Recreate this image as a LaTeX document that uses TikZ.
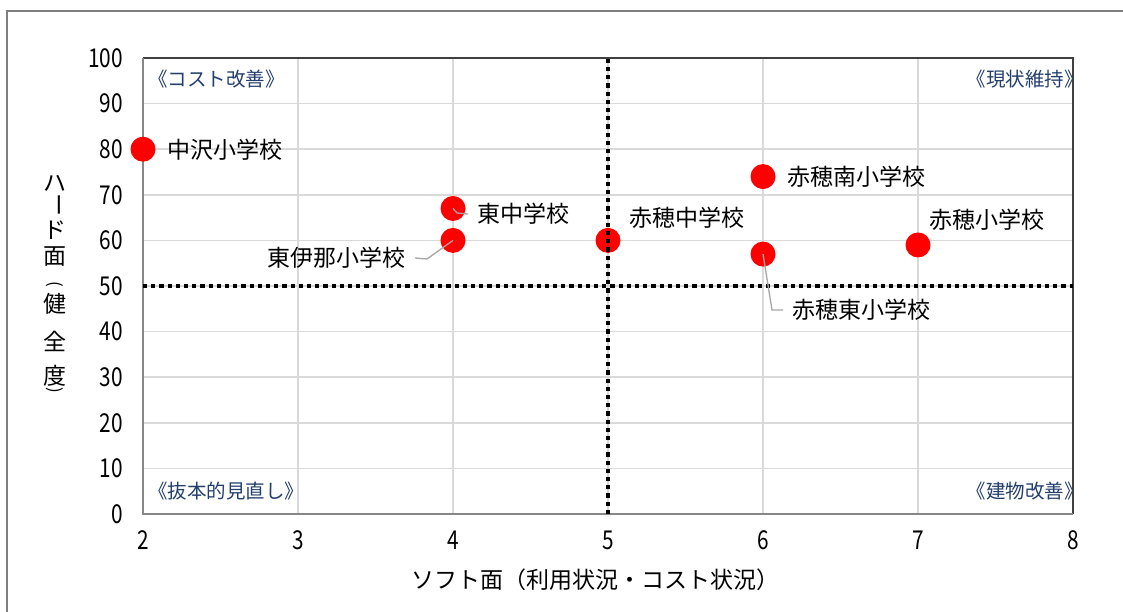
\documentclass[tikz,border=0pt]{standalone}
\usepackage{fontspec}
\setmainfont{Noto Sans CJK JP}
\newfontfamily\jpfont{Noto Sans CJK JP}
\newfontfamily\numfont{Noto Sans CJK JP}[FakeStretch=0.8]
\definecolor{gridc}{HTML}{D9D9D9}
\definecolor{axisc}{HTML}{878787}
\definecolor{framec}{HTML}{7F7F7F}
\definecolor{borderc}{HTML}{404040}
\definecolor{quadc}{HTML}{243F6E}
\definecolor{leadc}{HTML}{A6A6A6}
\definecolor{ptred}{HTML}{FF0000}
\tikzset{
  gridline/.style={draw=gridc, line width=1.6pt},
  axisline/.style={draw=axisc, line width=2.6pt},
  borderline/.style={draw=borderc, line width=1.2pt},
  dotline/.style={draw=black, line width=4.2pt, dash pattern=on 4.2pt off 4pt},
  ptmark/.style={circle, fill=ptred, minimum size=25pt, inner sep=0pt},
  dlab/.style={font=\jpfont\fontsize{23}{26}\selectfont, inner sep=0pt, text=black},
  qlab/.style={font=\jpfont\fontsize{19.5}{22}\selectfont, inner sep=0pt, text=quadc},
  ticklab/.style={font=\numfont\fontsize{26}{28}\selectfont, inner sep=0pt, text=black},
  ttl/.style={font=\jpfont\fontsize{23}{26}\selectfont, inner sep=0pt, text=black},
  parenlab/.style={font=\jpfont\fontsize{17}{17}\selectfont, inner sep=0pt, text=black, rotate=-90},
  leader/.style={draw=leadc, line width=1.3pt},
}
\begin{document}
\begin{tikzpicture}[x=1pt,y=1pt]
\useasboundingbox (0,0) rectangle (1123,-612);
\fill[white] (0,0) rectangle (1123,-612);
% outer chart frame
\draw[draw=framec, line width=1.2pt] (7,-640) -- (7,-11) -- (1140,-11);

\begin{scope}[shift={(-167pt,-514pt)}, x=155pt, y=4.56pt]
  % grid
  \foreach \i in {3,...,7} \draw[gridline] (\i,0) -- (\i,100);
  \foreach \j in {10,20,...,90} \draw[gridline] (2,\j) -- (8,\j);
  % plot area border
  \draw[borderline] (2,100) -- (8,100) -- (8,0);
  \draw[axisline] (2,100) -- (2,0) -- (8,0);
  % tick labels
  \foreach \i in {2,...,8} \node[ticklab] (xt\i) at (\i,0) [yshift=-26pt] {\i};
  \foreach \j in {0,10,...,100} \node[ticklab, anchor=east] (yt\j) at (2,\j) [xshift=-20pt] {\j};
  % data points
  \node[ptmark] (p1) at (2,80) {};
  \node[ptmark] (p2) at (4,67) {};
  \node[ptmark] (p3) at (4,60) {};
  \node[ptmark] (p4) at (5,60) {};
  \node[ptmark] (p5) at (6,74) {};
  \node[ptmark] (p6) at (6,57) {};
  \node[ptmark] (p7) at (7,59) {};
  % quadrant dividers
  \draw[dotline] (2,50) -- (8,50);
  \draw[dotline] (5,0) -- (5,100);
\end{scope}

% data labels
\node[dlab, anchor=west] (l1) at (167,-150) {中沢小学校};
\node[dlab, anchor=west] (l2) at (477,-214) {東中学校};
\node[dlab, anchor=east] (l3) at (406,-258) {東伊那小学校};
\node[dlab, anchor=west] (l4) at (629,-218) {赤穂中学校};
\node[dlab, anchor=west] (l5) at (787,-177) {赤穂南小学校};
\node[dlab, anchor=west] (l6) at (792,-310) {赤穂東小学校};
\node[dlab, anchor=west] (l7) at (929,-220) {赤穂小学校};

% leader lines
\coordinate (c2) at (457,-213);
\coordinate (c3) at (427,-259);
\coordinate (c6) at (772,-310);
\draw[leader] (p2.center) -- (c2) -- ([xshift=-9pt]l2.west);
\draw[leader] (p3.center) -- (c3) -- ([xshift=9pt]l3.east);
\draw[leader] (p6.center) -- (c6) -- ([xshift=-9pt]l6.west);

% quadrant labels
\node[qlab, anchor=west] (q1) at (148,-79) {《コスト改善》};
\node[qlab, anchor=east] (q2) at (1084,-79) {《現状維持》};
\node[qlab, anchor=west] (q3) at (148,-491) {《抜本的見直し》};
\node[qlab, anchor=east] (q4) at (1084,-491) {《建物改善》};

% axis titles
\node[ttl] (xtitle) at (595,-580) {ソフト面（利用状況・コスト状況）};
\node[ttl] (y1) at (55,-183) {ハ};
\node[ttl, rotate=-90] (y2) at (55,-205) {ー};
\node[ttl] (y3) at (55,-230) {ド};
\node[ttl] (y4) at (55,-257) {面};
\node[parenlab] (y5) at (55,-284) {(};
\node[ttl] (y6) at (55,-304) {健};
\node[ttl] (y7) at (55,-341) {全};
\node[ttl] (y8) at (55,-376) {度};
\node[parenlab] (y9) at (55,-390) {)};
\end{tikzpicture}
\end{document}
